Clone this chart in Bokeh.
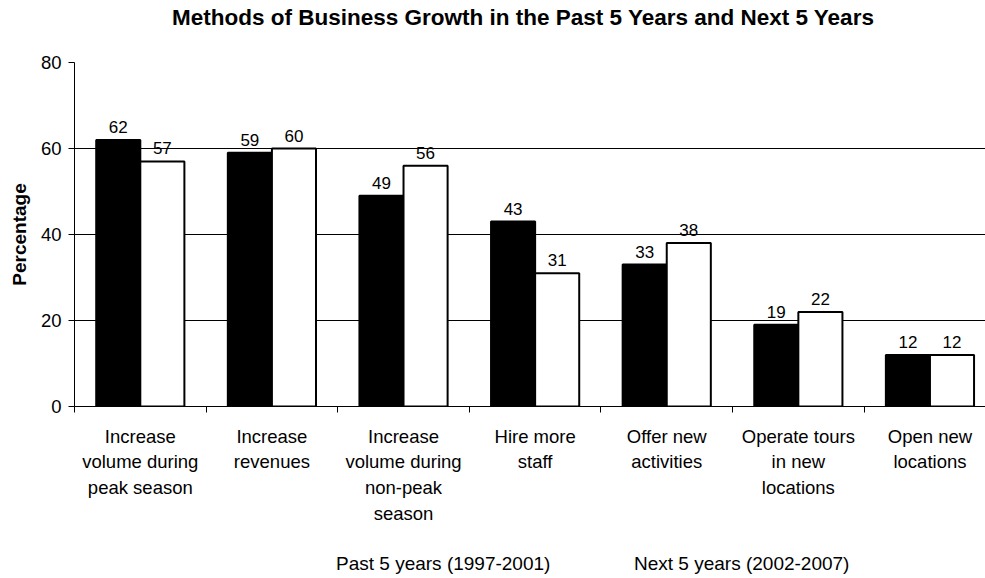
from bokeh.plotting import figure
from bokeh.layouts import column
from bokeh.models import Range1d, FixedTicker, Legend, LegendItem, ColumnDataSource, Title
from bokeh.core.properties import value
from bokeh.embed import file_html
from bokeh.resources import INLINE

categories = [
    "Increase\nvolume during\npeak season",
    "Increase\nrevenues",
    "Increase\nvolume during\nnon-peak\nseason",
    "Hire more\nstaff",
    "Offer new\nactivities",
    "Operate tours\nin new\nlocations",
    "Open new\nlocations",
]
past_5_years = [62, 59, 49, 43, 33, 19, 12]
next_5_years = [57, 60, 56, 31, 38, 22, 12]
series_names = ["Past 5 years (1997-2001)", "Next 5 years (2002-2007)"]
y_ticks = [0, 20, 40, 60, 80]
title_text = "Methods of Business Growth in the Past 5 Years and Next 5 Years"

FONT = "Liberation Sans"
BAR_W = 0.335

centers = [i + 0.5 for i in range(len(categories))]
past_x = [c - BAR_W / 2 for c in centers]
next_x = [c + BAR_W / 2 for c in centers]

p = figure(
    frame_width=911, frame_height=344, output_backend="svg", toolbar_location=None,
    x_range=Range1d(0, 6.922), y_range=Range1d(0, 80),
    min_border_left=74, min_border_right=0, min_border_top=62, min_border_bottom=140,
)
p.title = None
p.outline_line_color = None
p.background_fill_color = "white"
p.border_fill_color = "white"

# spacer between frame and title, then the title itself (further out)
spacer = Title(text=" ", text_font_size="2px", standoff=26)
p.add_layout(spacer, "above")
title = Title(text=title_text, text_font=FONT, text_font_size="22.5px",
              text_font_style="bold", align="left", offset=97.5,
              text_color="black", standoff=5)
p.add_layout(title, "above")

# grids
p.xgrid.visible = False
p.ygrid.ticker = FixedTicker(ticks=y_ticks[1:])
p.ygrid.grid_line_color = "black"
p.ygrid.grid_line_width = 1

# y axis
ya = p.yaxis[0]
ya.ticker = FixedTicker(ticks=y_ticks, minor_ticks=[])
ya.axis_line_color = "black"
ya.major_tick_line_color = "black"
ya.major_tick_in = 0
ya.major_tick_out = 6
ya.major_label_standoff = 7
ya.major_label_text_font = FONT
ya.major_label_text_font_size = "18.5px"
ya.major_label_text_color = "black"
ya.axis_label = "Percentage"
ya.axis_label_text_font = FONT
ya.axis_label_text_font_size = "19px"
ya.axis_label_text_font_style = "bold"
ya.axis_label_text_color = "black"
ya.axis_label_standoff = 8

# x axis
xa = p.xaxis[0]
xa.axis_label = None
xa.ticker = FixedTicker(ticks=centers, minor_ticks=list(range(len(categories))))
xa.major_label_overrides = {c: lab for c, lab in zip(centers, categories)}
xa.axis_line_color = "black"
xa.major_tick_line_color = None
xa.major_tick_in = 0
xa.major_tick_out = 0
xa.minor_tick_line_color = "black"
xa.minor_tick_in = 0
xa.minor_tick_out = 6
xa.major_label_standoff = 13
xa.major_label_text_font = FONT
xa.major_label_text_font_size = "18.5px"
xa.major_label_text_color = "black"
xa.major_label_text_line_height = 1.23

src_past = ColumnDataSource(dict(x=past_x, top=past_5_years, label=[str(v) for v in past_5_years]))
src_next = ColumnDataSource(dict(x=next_x, top=next_5_years, label=[str(v) for v in next_5_years]))

p.vbar(x="x", top="top", bottom=0, width=BAR_W, source=src_past,
       fill_color="black", line_color="black", line_width=2)
p.vbar(x="x", top="top", bottom=0, width=BAR_W, source=src_next,
       fill_color="white", line_color="black", line_width=2)

for src in (src_past, src_next):
    p.text(x="x", y="top", text="label", source=src, text_align="center",
           text_baseline="alphabetic", y_offset=-13, text_font=value(FONT),
           text_font_size="17px", text_color="black")

# legend strip below the chart (separate small figure, frame covers it all)
leg_fig = figure(
    width=985, height=32, output_backend="svg", toolbar_location=None,
    x_range=Range1d(0, 1), y_range=Range1d(0, 1),
    x_axis_location=None, y_axis_location=None,
    min_border_left=0, min_border_right=0, min_border_top=0, min_border_bottom=0,
)
leg_fig.title = None
leg_fig.grid.visible = False
leg_fig.outline_line_color = None
leg_fig.background_fill_color = "white"
leg_fig.border_fill_color = "white"

lr_past = leg_fig.vbar(x=[], top=[], bottom=0, width=0.1,
                       fill_color="black", line_color="black", line_width=1)
lr_next = leg_fig.vbar(x=[], top=[], bottom=0, width=0.1,
                       fill_color="white", line_color="black", line_width=2)

legend = Legend(items=[LegendItem(label=series_names[0], renderers=[lr_past]),
                       LegendItem(label=series_names[1], renderers=[lr_next])],
                orientation="horizontal", location=(244, 3))
legend.label_text_font = FONT
legend.label_text_font_size = "19px"
legend.label_text_color = "black"
legend.glyph_width = 11
legend.glyph_height = 11
legend.label_standoff = 7
legend.label_width = 255
legend.spacing = 25
legend.padding = 0
legend.margin = 0
legend.border_line_color = None
legend.background_fill_alpha = 0
leg_fig.add_layout(legend, "center")

layout = column(p, leg_fig, spacing=0)
open("out.html", "w").write(file_html(layout, INLINE))
